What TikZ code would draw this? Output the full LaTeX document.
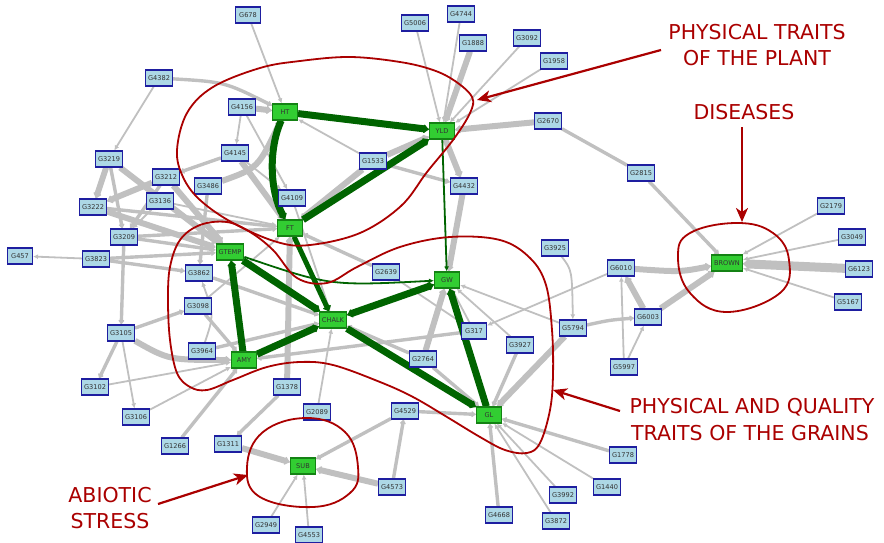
\documentclass[tikz,border=0pt]{standalone}
\usepackage{fontspec}
\setmainfont{DejaVu Sans}
\usetikzlibrary{arrows.meta,backgrounds}

\definecolor{genefill}{RGB}{173,216,230}
\definecolor{genedraw}{RGB}{30,30,160}
\definecolor{traitfill}{RGB}{50,205,50}
\definecolor{traitdraw}{RGB}{20,130,20}
\definecolor{edgegray}{RGB}{192,192,192}
\definecolor{linkgreen}{RGB}{0,100,0}
\definecolor{notered}{RGB}{170,0,0}

\tikzset{
  gene/.style={draw=genedraw, fill=genefill, line width=1.1pt, minimum width=25pt,
    minimum height=16pt, inner xsep=2.5pt, inner ysep=0pt,
    font=\fontsize{6.6}{7}\selectfont, text=black!80},
  trait/.style={gene, draw=traitdraw, fill=traitfill},
  w1/.style={draw=edgegray, line width=1.8pt, -{Latex[length=5pt,width=5pt]}},
  w2/.style={draw=edgegray, line width=3.4pt, -{Latex[round,length=5pt,width=7.5pt]}},
  w3/.style={draw=edgegray, line width=6pt, -{Latex[round,length=6pt,width=10.5pt]}},
  w4/.style={draw=edgegray, line width=9pt, -{Latex[round,length=7pt,width=13.5pt]}},
  g1/.style={draw=linkgreen, line width=1.8pt, -{Latex[length=5pt,width=5pt]}},
  g3/.style={draw=linkgreen, line width=7pt, -{Latex[round,length=6pt,width=11pt]}},
  g3b/.style={draw=linkgreen, line width=7pt, {Latex[round,length=6pt,width=11pt]}-{Latex[round,length=6pt,width=11pt]}},
  region/.style={draw=notered, line width=1.8pt},
  callout/.style={draw=notered, line width=2.2pt, -{Stealth[length=14pt,width=12pt,inset=4pt]}},
  tag/.style={text=notered, font=\fontsize{20.5}{24}\selectfont, anchor=base, inner sep=0pt},
}

\begin{document}
\begin{tikzpicture}[x=1pt,y=-1pt]
\useasboundingbox (0,0) rectangle (884,543);

% ---------- trait nodes ----------
\node[trait] (HT)    at (285,112) {HT};
\node[trait] (YLD)   at (442,131) {YLD};
\node[trait] (FT)    at (290,228) {FT};
\node[trait] (GTEMP) at (230,252) {GTEMP};
\node[trait] (AMY)   at (244,360) {AMY};
\node[trait] (CHALK) at (333,320) {CHALK};
\node[trait] (GW)    at (447,280) {GW};
\node[trait] (GL)    at (489,415) {GL};
\node[trait] (SUB)   at (303,466) {SUB};
\node[trait] (BROWN) at (727,263) {BROWN};

% ---------- gene nodes ----------
\node[gene] (G678)  at (248,15)  {G678};
\node[gene] (G4382) at (159,78)  {G4382};
\node[gene] (G4156) at (242,107) {G4156};
\node[gene] (G4145) at (235,153) {G4145};
\node[gene] (G3219) at (109,159) {G3219};
\node[gene] (G3212) at (166,177) {G3212};
\node[gene] (G3486) at (208,186) {G3486};
\node[gene] (G4109) at (292,198) {G4109};
\node[gene] (G5006) at (415,23)  {G5006};
\node[gene] (G4744) at (461,14)  {G4744};
\node[gene] (G1888) at (473,43)  {G1888};
\node[gene] (G3092) at (527,38)  {G3092};
\node[gene] (G1958) at (554,61)  {G1958};
\node[gene] (G2670) at (548,121) {G2670};
\node[gene] (G1533) at (373,161) {G1533};
\node[gene] (G4432) at (464,186) {G4432};
\node[gene] (G3222) at (93,207)  {G3222};
\node[gene] (G3136) at (160,201) {G3136};
\node[gene] (G3209) at (124,237) {G3209};
\node[gene] (G457)  at (20,256)  {G457};
\node[gene] (G3823) at (96,259)  {G3823};
\node[gene] (G3862) at (199,273) {G3862};
\node[gene] (G3098) at (198,306) {G3098};
\node[gene] (G3105) at (121,333) {G3105};
\node[gene] (G3964) at (202,351) {G3964};
\node[gene] (G2639) at (386,272) {G2639};
\node[gene] (G317)  at (474,331) {G317};
\node[gene] (G3925) at (555,248) {G3925};
\node[gene] (G5794) at (573,328) {G5794};
\node[gene] (G3927) at (520,345) {G3927};
\node[gene] (G2764) at (423,359) {G2764};
\node[gene] (G3102) at (95,387)  {G3102};
\node[gene] (G1378) at (287,387) {G1378};
\node[gene] (G3106) at (136,417) {G3106};
\node[gene] (G2089) at (317,412) {G2089};
\node[gene] (G1266) at (175,446) {G1266};
\node[gene] (G1311) at (228,444) {G1311};
\node[gene] (G4573) at (392,487) {G4573};
\node[gene] (G2949) at (266,525) {G2949};
\node[gene] (G4553) at (309,535) {G4553};
\node[gene] (G5997) at (624,367) {G5997};
\node[gene] (G4529) at (405,411) {G4529};
\node[gene] (G1778) at (623,455) {G1778};
\node[gene] (G1440) at (607,487) {G1440};
\node[gene] (G3992) at (563,495) {G3992};
\node[gene] (G4668) at (499,515) {G4668};
\node[gene] (G3872) at (556,521) {G3872};
\node[gene] (G6010) at (621,268) {G6010};
\node[gene] (G2179) at (831,206) {G2179};
\node[gene] (G3049) at (852,237) {G3049};
\node[gene] (G6123) at (859,269) {G6123};
\node[gene] (G5167) at (848,302) {G5167};
\node[gene] (G6003) at (648,317) {G6003};
\node[gene] (G2815) at (641,173) {G2815};

% ---------- interactions (behind the boxes) ----------
\begin{pgfonlayer}{background}
% plant height / yield
\draw[w1] (G678) -- (HT);
\draw[w2] (G4382) .. controls (225,82) .. (HT);
\draw[w1] (G4382) -- (G3219);
\draw[w3] (G4156) -- (HT);
\draw[w1] (G4156) -- (G4145);
\draw[w1] (G4156) -- (G4109);
\draw[w3] (G3486) .. controls (258,168) .. (HT);
\draw[w1] (G1533) -- (HT);
\draw[w3] (G1533) -- (YLD);
\draw[w2] (G1533) -- (G4432);
\draw[w3] (G1533) -- (FT);
\draw[w3] (YLD) -- (G4432);
\draw[w3] (G4432) -- (GW);
\draw[w1] (G5006) -- (YLD);
\draw[w1] (G4744) -- (YLD);
\draw[w3] (G1888) -- (YLD);
\draw[w1] (G3092) -- (YLD);
\draw[w1] (G1958) -- (YLD);
\draw[w3] (G2670) -- (YLD);
\draw[w2, -] (G2670) -- (G2815);
\draw[w2] (G2815) -- (BROWN);
% left cluster
\draw[w2] (G4145) -- (G3212);
\draw[w1] (G4145) -- (G4109);
\draw[w3] (G4145) -- (FT);
\draw[w3] (G3219) -- (G3222);
\draw[w2] (G3219) -- (G3209);
\draw[w3] (G3219) -- (GTEMP);
\draw[w3] (G3212) -- (G3222);
\draw[w2] (G3212) -- (G3209);
\draw[w3] (G3212) -- (GTEMP);
\draw[w1] (G3136) -- (FT);
\draw[w1] (G3136) -- (G3209);
\draw[w3] (G3222) -- (GTEMP);
\draw[w2] (G3222) -- (FT);
\draw[w2] (G3209) -- (GTEMP);
\draw[w2] (G3209) -- (FT);
\draw[w2] (G3209) -- (G3105);
\draw[w1] (G3823) -- (G457);
\draw[w2] (G3823) -- (GTEMP);
\draw[w2] (G3823) -- (G3862);
\draw[w2] (G3486) -- (G3862);
\draw[w1] (G3098) -- (FT);
\draw[w1] (G4109) -- (CHALK);
\draw[w2] (G2639) -- (FT);
\draw[w1] (G2639) -- (G317);
\draw[w3] (G1378) -- (FT);
\draw[w2] (G1378) -- (G1311);
\draw[w2] (G3862) -- (CHALK);
\draw[w2] (G3964) -- (CHALK);
\draw[w1] (G3964) .. controls (214,315) .. (G3862);
\draw[w2] (G3098) -- (AMY);
\draw[w2] (G3105) -- (G3098);
\draw[w3] (G3105) .. controls (169,360) .. (AMY);
\draw[w2] (G3105) -- (G3102);
\draw[w1] (G3105) -- (G3106);
\draw[w1] (G3102) -- (AMY);
\draw[w1] (G3106) -- (AMY);
\draw[w2] (G1266) -- (AMY);
\draw[w2] (G317) -- (AMY);
\draw[w1] (G2089) -- (CHALK);
% grain traits
\draw[w2] (G2764) -- (CHALK);
\draw[w3] (G2764) -- (GW);
\draw[w2] (G2764) -- (GL);
\draw[w1] (G317) -- (GW);
\draw[w1] (G5794) -- (GW);
\draw[w1] (G3927) -- (GW);
\draw[w2] (G3927) -- (GL);
\draw[w1] (G6010) -- (G317);
\draw[w1] (G3925) .. controls (572,270) .. (G5794);
\draw[w3] (G5794) -- (GL);
\draw[w2] (G5794) .. controls (610,320) .. (G6003);
\draw[w2] (G4529) -- (GL);
\draw[w2] (G1778) -- (GL);
\draw[w1] (G1440) -- (GL);
\draw[w1] (G3992) -- (GL);
\draw[w1] (G3872) -- (GL);
\draw[w2] (G4668) -- (GL);
% disease
\draw[w3] (G6010) .. controls (680,272) .. (BROWN);
\draw[w3] (G6003) -- (G6010);
\draw[w3] (G6003) -- (BROWN);
\draw[w1] (G5997) -- (G6010);
\draw[w1] (G5997) -- (G6003);
\draw[w1] (G2179) -- (BROWN);
\draw[w1] (G3049) -- (BROWN);
\draw[w4] (G6123) -- (BROWN);
\draw[w1] (G5167) -- (BROWN);
% abiotic stress
\draw[w2] (G4529) -- (SUB);
\draw[w2] (G4573) -- (G4529);
\draw[w3] (G4573) -- (SUB);
\draw[w3] (G1311) -- (SUB);
\draw[w1] (G2949) -- (SUB);
\draw[w1] (G4553) -- (SUB);
% trait-to-trait links
\draw[g3] (HT) -- (YLD);
\draw[g3] (HT) .. controls (268,150) and (270,192) .. (FT);
\draw[g3] (FT) -- (YLD);
\draw[g1] (YLD) -- (GW);
\draw[g3, line width=5pt] (FT) -- (CHALK);
\draw[g3] (AMY) -- (GTEMP);
\draw[g3] (GTEMP) -- (CHALK);
\draw[g1] (GTEMP) .. controls (330,286) .. (GW);
\draw[g3] (AMY) -- (CHALK);
\draw[g3b] (CHALK) -- (GW);
\draw[g3] (CHALK) -- (GL);
\draw[g3] (GL) -- (GW);
\end{pgfonlayer}

% ---------- annotated regions ----------
\draw[region] plot[smooth cycle, tension=0.6] coordinates {
  (300,61) (260,68) (213,87) (187,113) (177,150) (183,177) (200,200) (233,223)
  (277,242) (310,245) (360,233) (401,206) (427,172) (453,140) (470,113) (472,97)
  (455,81) (433,70) (400,62) (350,57)};
\draw[region] plot[smooth cycle, tension=0.6] coordinates {
  (170,267) (180,240) (200,225) (227,222) (250,232) (273,250) (297,278) (327,283)
  (357,267) (400,247) (450,237) (500,240) (530,258) (546,285) (552,330) (553,375)
  (550,410) (540,443) (527,453) (505,450) (480,437) (447,417) (413,397) (380,382)
  (333,365) (300,362) (267,367) (233,380) (207,390) (190,387) (177,373) (170,340)
  (168,300)};
\draw[region] plot[smooth cycle, tension=0.7] coordinates {
  (247,467) (263,432) (307,418) (345,432) (358,467) (350,493) (313,507) (260,497)};
\draw[region] plot[smooth cycle, tension=0.7] coordinates {
  (678,257) (690,233) (737,223) (773,233) (789,260) (780,293) (727,312) (690,293)};

% ---------- labels and pointers ----------
\node[tag] (plantA) at (757,40)  {PHYSICAL TRAITS};
\node[tag] (plantB) at (757,66)  {OF THE PLANT};
\node[tag] (dis)    at (744,119) {DISEASES};
\node[tag] (grainA) at (752,413) {PHYSICAL AND QUALITY};
\node[tag] (grainB) at (750,440) {TRAITS OF THE GRAINS};
\node[tag] (abioA)  at (110,502) {ABIOTIC};
\node[tag] (abioB)  at (110,528) {STRESS};

\coordinate (plantTail) at (661,50);
\coordinate (plantTip)  at (477,100);
\coordinate (disTail)   at (742,127);
\coordinate (disTip)    at (742,222);
\coordinate (grainTail) at (620,411);
\coordinate (grainTip)  at (553,390);
\coordinate (abioTail)  at (158,504);
\coordinate (abioTip)   at (248,475);

\draw[callout] (plantTail) -- (plantTip);
\draw[callout] (disTail) -- (disTip);
\draw[callout] (grainTail) -- (grainTip);
\draw[callout] (abioTail) -- (abioTip);
\end{tikzpicture}
\end{document}
